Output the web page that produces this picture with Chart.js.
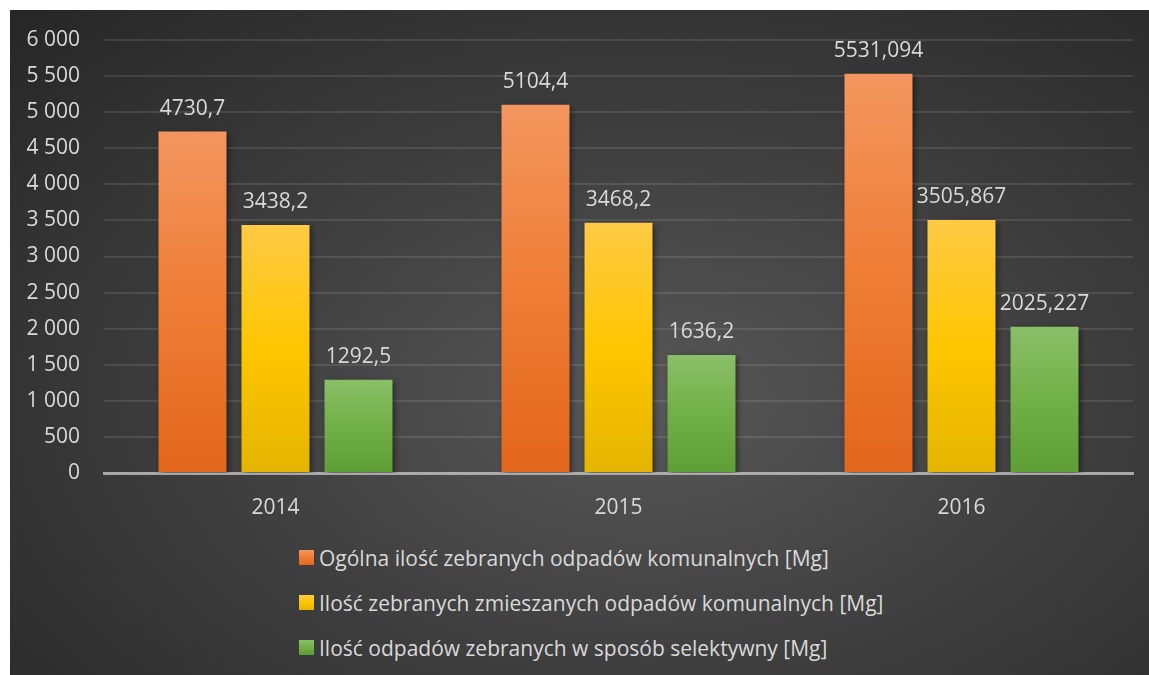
<!DOCTYPE html>
<html>
<head>
<meta charset="utf-8">
<script src="https://cdn.jsdelivr.net/npm/chart.js@4"></script>
<style>
  html, body { margin: 0; padding: 0; background: #ffffff; }
  #panel {
    position: absolute; left: 10px; top: 10px; width: 1139px; height: 665px;
    background: radial-gradient(ellipse farthest-corner at 56% 59%, #585858 0%, #404040 45%, #262626 100%);
    overflow: hidden;
  }
  #graph { position: absolute; left: 0; top: 0; }
  #legend {
    position: absolute; left: 289px; top: 525px;
    font-family: 'Open Sans', sans-serif; font-size: 21px; color: #d9d9d9;
  }
  .item { height: 45px; display: flex; align-items: center; white-space: nowrap; }
  .box { width: 15px; height: 15px; margin-right: 5px; }
</style>
</head>
<body>
<div id="panel">
  <canvas id="graph" width="1139" height="520"></canvas>
  <div id="legend"></div>
</div>
<script>
var years = ["2014", "2015", "2016"];
var totalWaste = [4730.7, 5104.4, 5531.094];
var mixedWaste = [3438.2, 3468.2, 3505.867];
var selectiveWaste = [1292.5, 1636.2, 2025.227];
var seriesNames = [
  "Ogólna ilość zebranych odpadów komunalnych [Mg]",
  "Ilość zebranych zmieszanych odpadów komunalnych [Mg]",
  "Ilość odpadów zebranych w sposób selektywny [Mg]"
];
// top / middle / bottom shades of each series
var shades = [
  ["#f3965f", "#ef7d35", "#e2661b"],
  ["#ffca45", "#fec600", "#e4b400"],
  ["#8abf68", "#71b046", "#5d9e35"]
];

Chart.defaults.font.family = "'Open Sans', sans-serif";
Chart.defaults.font.size = 21;
Chart.defaults.color = "#d9d9d9";

function barGradient(idx) {
  return function(c) {
    var chart = c.chart;
    if (!chart.chartArea || c.type !== "data") return shades[idx][1];
    var y = chart.scales.y;
    var top = y.getPixelForValue(c.raw);
    var bottom = y.getPixelForValue(0);
    var g = chart.ctx.createLinearGradient(0, top, 0, bottom);
    g.addColorStop(0, shades[idx][0]);
    g.addColorStop(0.5, shades[idx][1]);
    g.addColorStop(1, shades[idx][2]);
    return g;
  };
}

function fmtTick(v) {
  return String(v).replace(/\B(?=(\d{3})+(?!\d))/g, " ");
}

var shadowAndLabels = {
  id: "shadowAndLabels",
  beforeDatasetsDraw: function(chart) {
    var ctx = chart.ctx;
    ctx.save();
    ctx.shadowColor = "rgba(0,0,0,0.55)";
    ctx.shadowBlur = 6;
    ctx.shadowOffsetX = 2;
    ctx.shadowOffsetY = 2;
  },
  afterDatasetsDraw: function(chart) {
    var ctx = chart.ctx;
    ctx.restore();
    ctx.save();
    ctx.font = "21px 'Open Sans', sans-serif";
    ctx.fillStyle = "#d9d9d9";
    ctx.textAlign = "center";
    ctx.textBaseline = "alphabetic";
    chart.data.datasets.forEach(function(ds, i) {
      chart.getDatasetMeta(i).data.forEach(function(bar, j) {
        ctx.fillText(String(ds.data[j]).replace(".", ","), bar.x, bar.y - 17);
      });
    });
    ctx.restore();
  }
};

var htmlLegend = {
  id: "htmlLegend",
  afterUpdate: function(chart) {
    var box = document.getElementById("legend");
    box.innerHTML = "";
    chart.data.datasets.forEach(function(ds, i) {
      var row = document.createElement("div");
      row.className = "item";
      var sw = document.createElement("span");
      sw.className = "box";
      sw.style.background = "linear-gradient(" + shades[i][0] + "," + shades[i][1] + "," + shades[i][2] + ")";
      var txt = document.createElement("span");
      txt.textContent = ds.label;
      row.appendChild(sw);
      row.appendChild(txt);
      box.appendChild(row);
    });
  }
};

var ctx = document.getElementById("graph").getContext("2d");
var chart = new Chart(ctx, {
  type: "bar",
  data: {
    labels: years,
    datasets: [
      { label: seriesNames[0], data: totalWaste, backgroundColor: barGradient(0) },
      { label: seriesNames[1], data: mixedWaste, backgroundColor: barGradient(1) },
      { label: seriesNames[2], data: selectiveWaste, backgroundColor: barGradient(2) }
    ]
  },
  options: {
    responsive: false,
    animation: false,
    devicePixelRatio: 1,
    categoryPercentage: 0.726,
    barPercentage: 0.819,
    layout: { padding: { top: 30, right: 16, left: 0, bottom: 0 } },
    plugins: {
      legend: { display: false },
      tooltip: { enabled: false }
    },
    scales: {
      x: {
        z: 1,
        grid: { display: false, drawTicks: false },
        border: { display: true, color: "rgba(200,200,200,0.75)", width: 3 },
        ticks: { padding: 22, color: "#d9d9d9" },
        afterFit: function(s) { s.height = 57; }
      },
      y: {
        min: 0,
        max: 6000,
        grid: { color: "rgba(255,255,255,0.1)", lineWidth: 2, drawTicks: false },
        border: { display: false },
        ticks: { stepSize: 500, padding: 24, color: "#d9d9d9", callback: fmtTick },
        afterFit: function(s) {
          s.width = 94;
          s.paddingTop = 0;
          s.paddingBottom = 0;
        }
      }
    }
  },
  plugins: [shadowAndLabels, htmlLegend]
});
</script>
</body>
</html>
